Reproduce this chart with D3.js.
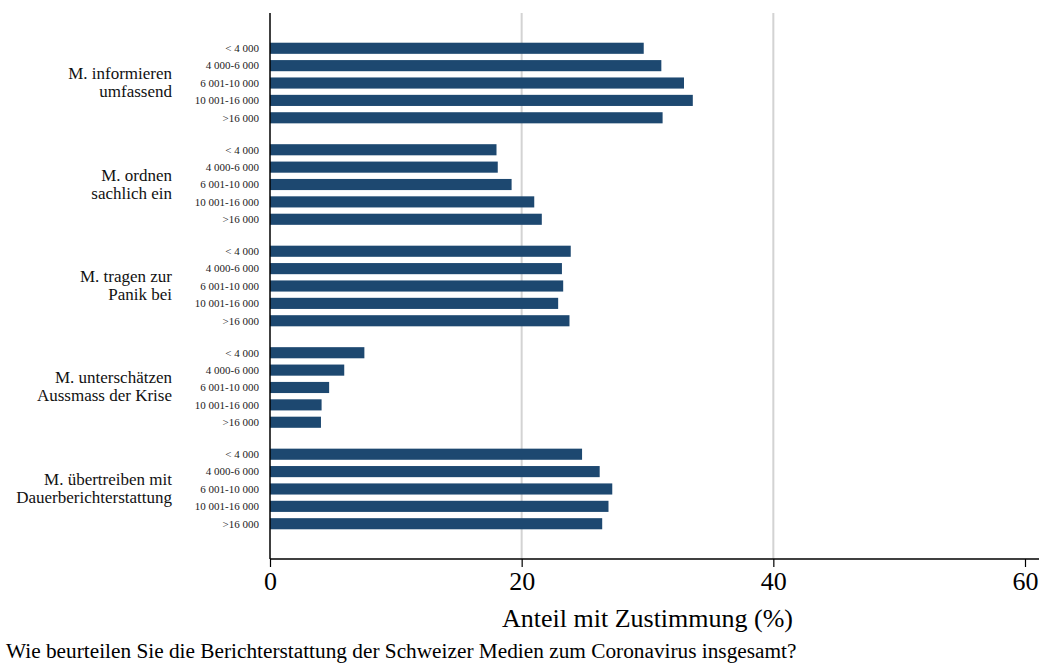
<!DOCTYPE html>
<meta charset="utf-8">
<head>
<style>
  body { margin: 0; background: #fff; }
  svg text { font-family: "Liberation Serif", "Times New Roman", serif; }
</style>
</head>
<body>
  <script src="https://d3js.org/d3.v7.min.js"></script>
  <script>
    // categories (two lines each) and income groups
    var categories = [
      ["M. informieren", "umfassend"],
      ["M. ordnen", "sachlich ein"],
      ["M. tragen zur", "Panik bei"],
      ["M. unterschätzen", "Aussmass der Krise"],
      ["M. übertreiben mit", "Dauerberichterstattung"]
    ];
    var incomes = ["< 4 000", "4 000-6 000", "6 001-10 000", "10 001-16 000", ">16 000"];

    // share of agreement (%) per income group
    var informieren = [29.7, 31.1, 32.9, 33.6, 31.2];
    var ordnen = [18.0, 18.1, 19.2, 21.0, 21.6];
    var panik = [23.9, 23.2, 23.3, 22.9, 23.8];
    var unterschaetzen = [7.5, 5.9, 4.7, 4.1, 4.05];
    var uebertreiben = [24.8, 26.2, 27.2, 26.9, 26.4];
    var series = [informieren, ordnen, panik, unterschaetzen, uebertreiben];

    var xTicks = [0, 20, 40, 60];
    var xTitle = "Anteil mit Zustimmung (%)";
    var note = "Wie beurteilen Sie die Berichterstattung der Schweizer Medien zum Coronavirus insgesamt?";

    var serif = "'Liberation Serif', 'Times New Roman', serif";
    var width = 1039, height = 664;
    var plotLeft = 270, plotTop = 13, plotBottom = 559;

    var svg = d3.select("body").append("svg")
      .attr("width", width)
      .attr("height", height)
      .attr("font-family", serif);

    var x = d3.scaleLinear().domain([0, 60]).range([plotLeft, 1025]);

    var yGroup = d3.scaleBand()
      .domain(d3.range(categories.length))
      .range([plotTop, plotBottom])
      .paddingInner(0)
      .paddingOuter(0.19);

    var yInner = d3.scaleBand()
      .domain(incomes)
      .range([0, yGroup.bandwidth()])
      .paddingInner(0.36)
      .paddingOuter(0.6);

    // grid lines
    svg.append("g").selectAll("line")
      .data([20, 40])
      .enter().append("line")
      .attr("x1", d => x(d)).attr("x2", d => x(d))
      .attr("y1", plotTop).attr("y2", plotBottom)
      .style("stroke", "#d3d3d3")
      .style("stroke-width", 2);

    var rows = [];
    series.forEach(function (vals, g) {
      vals.forEach(function (v, i) {
        rows.push({ g: g, inc: incomes[i], v: v });
      });
    });

    svg.append("g").selectAll("rect")
      .data(rows)
      .enter().append("rect")
      .attr("x", x(0))
      .attr("y", d => yGroup(d.g) + yInner(d.inc))
      .attr("width", d => x(d.v) - x(0))
      .attr("height", yInner.bandwidth())
      .style("fill", "#1d4870");

    // income labels
    svg.append("g").selectAll("text")
      .data(rows)
      .enter().append("text")
      .attr("x", plotLeft - 11)
      .attr("y", d => yGroup(d.g) + yInner(d.inc) + yInner.bandwidth() / 2)
      .attr("dy", "0.35em")
      .attr("text-anchor", "end")
      .style("font-family", serif)
      .style("font-size", "11px")
      .style("fill", "#222")
      .text(d => d.inc);

    // category labels
    var cat = svg.append("g").selectAll("text")
      .data(categories)
      .enter().append("text")
      .attr("text-anchor", "end")
      .style("font-family", serif)
      .style("font-size", "17px")
      .style("fill", "#111")
      .attr("transform", (d, i) => "translate(172," + (yGroup(i) + yGroup.bandwidth() / 2) + ")");
    cat.append("tspan").attr("x", 0).attr("y", -4).text(d => d[0]);
    cat.append("tspan").attr("x", 0).attr("y", 14).text(d => d[1]);

    // axes
    svg.append("line")
      .attr("x1", plotLeft).attr("x2", plotLeft)
      .attr("y1", plotTop).attr("y2", plotBottom)
      .style("stroke", "#000").style("stroke-width", 1.5);

    svg.append("line")
      .attr("x1", plotLeft).attr("x2", width)
      .attr("y1", plotBottom).attr("y2", plotBottom)
      .style("stroke", "#000").style("stroke-width", 1.5);

    var xAxis = svg.append("g")
      .attr("transform", "translate(0," + plotBottom + ")")
      .call(d3.axisBottom(x).tickValues(xTicks).tickSize(8).tickPadding(5));
    xAxis.select(".domain").remove();
    xAxis.attr("font-family", serif);
    xAxis.selectAll(".tick line").style("stroke-width", 1.2);
    xAxis.selectAll("text")
      .style("font-family", serif)
      .style("font-size", "26px")
      .style("fill", "#000");

    svg.append("text")
      .attr("x", x(30))
      .attr("y", 627)
      .attr("text-anchor", "middle")
      .style("font-family", serif)
      .style("font-size", "26px")
      .text(xTitle);

    svg.append("text")
      .attr("x", 6)
      .attr("y", 658)
      .style("font-family", serif)
      .style("font-size", "21.3px")
      .text(note);
  </script>
</body>
